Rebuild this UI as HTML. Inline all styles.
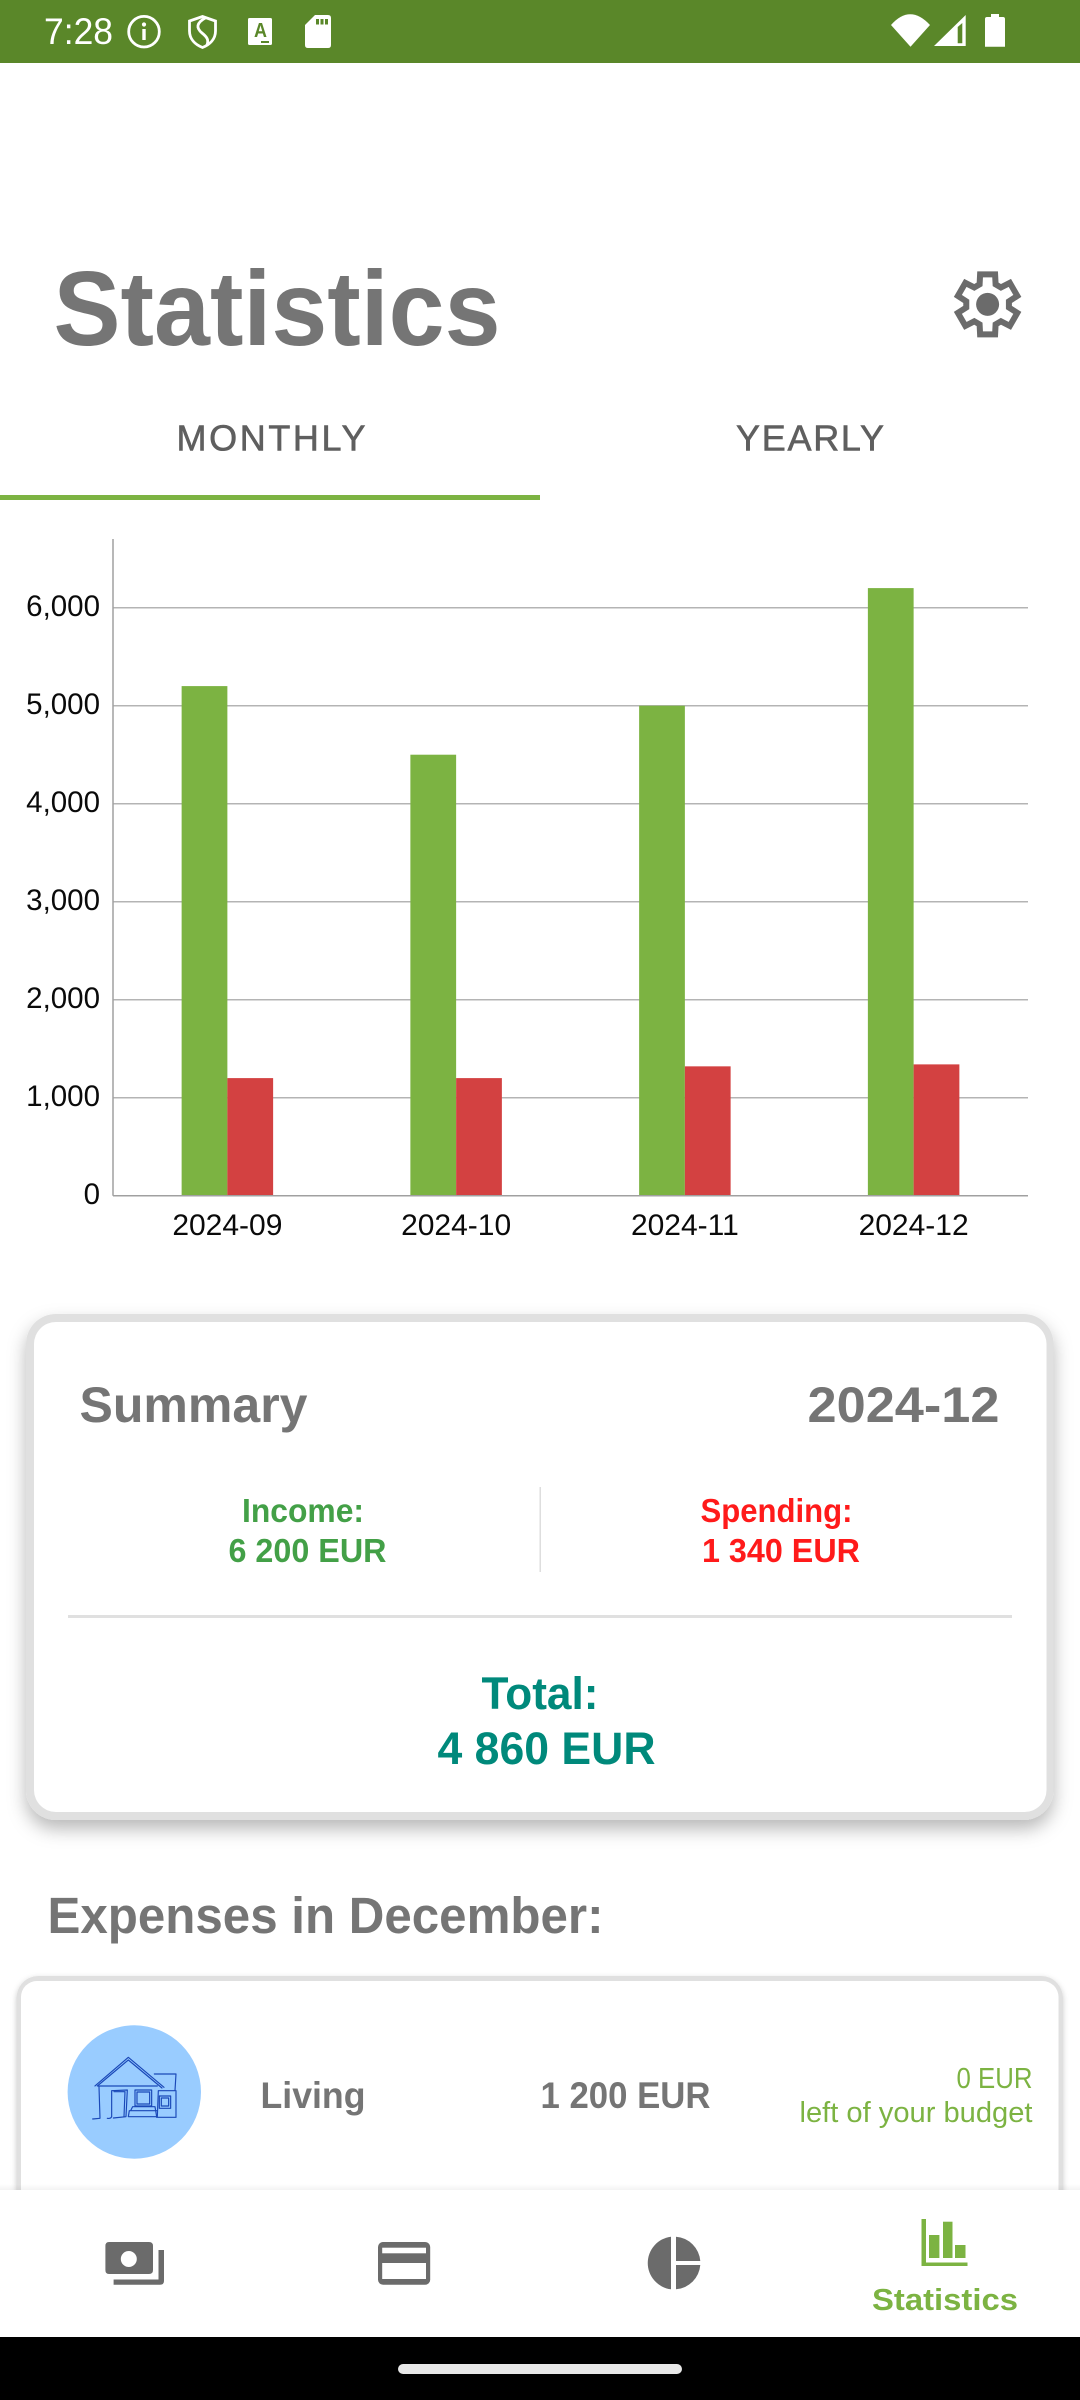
<!DOCTYPE html>
<html lang="en">
<head>
<meta charset="utf-8">
<title>Statistics</title>
<style>
html,body{margin:0;padding:0;background:#fff;width:1080px;height:2400px;overflow:hidden}
svg{display:block}
text{font-family:"Liberation Sans",sans-serif}
.b{font-weight:700}
</style>
</head>
<body>
<svg id="page" xmlns="http://www.w3.org/2000/svg" width="1080" height="2400" viewBox="0 0 1080 2400">
  <defs>
    <filter id="cardShadow" x="-10%" y="-10%" width="120%" height="125%">
      <feDropShadow dx="0" dy="9" stdDeviation="9" flood-color="#000" flood-opacity="0.28"/>
    </filter>
    <filter id="itemShadow" x="-5%" y="-5%" width="110%" height="115%">
      <feDropShadow dx="0" dy="2" stdDeviation="3" flood-color="#000" flood-opacity="0.2"/>
    </filter>
    <linearGradient id="navEdge" x1="0" y1="0" x2="0" y2="1">
      <stop offset="0" stop-color="#000" stop-opacity="0"/>
      <stop offset="1" stop-color="#000" stop-opacity="0.05"/>
    </linearGradient>
  </defs>
  <rect x="0" y="0" width="1080" height="2400" fill="#fff"/>

  <!-- Status bar -->
  <g>
    <rect x="0" y="0" width="1080" height="63" fill="#5a8729"/>
    <text x="44" y="44" font-size="37" fill="#fff" textLength="69" lengthAdjust="spacingAndGlyphs">7:28</text>
    <g>
      <circle cx="144" cy="31.7" r="15.3" fill="none" stroke="#fff" stroke-width="2.8"/>
      <rect x="142.3" y="29" width="3.4" height="11" fill="#fff"/>
      <circle cx="144" cy="24.5" r="2.1" fill="#fff"/>
    </g>
    <g fill="none" stroke="#fff" stroke-width="2.8">
      <path d="M202.500 16.500 L215.500 21 V31 C215.500 39 210 44.500 202.500 47.500 C195 44.500 189.500 39 189.500 31 V21 Z"/>
      <path d="M206 17.500 C196 23 196 28 202 33 C207 37 209 40 207 45"/>
    </g>
    <g>
      <rect x="248" y="18" width="24" height="27" rx="1.500" fill="#fff"/>
      <text x="254" y="37" class="b" font-size="20" fill="#5a8729" textLength="13" lengthAdjust="spacingAndGlyphs">A</text>
      <rect x="261" y="41" width="8" height="2" fill="#5a8729"/>
    </g>
    <g>
      <path d="M315 15 H328 Q331 15 331 18 V45 Q331 48 328 48 H308 Q305 48 305 45 V25 Z" fill="#fff"/>
      <rect x="316" y="19" width="3" height="5.500" fill="#5a8729"/>
      <rect x="320.500" y="19" width="3" height="5.500" fill="#5a8729"/>
      <rect x="325" y="19" width="3" height="5.500" fill="#5a8729"/>
    </g>
    <path d="M891 25 Q910 3.500 930 25 L910.500 46.700 Z" fill="#fff"/>
    <path fill-rule="evenodd" d="M934 46 L965.700 15 V46 Z M957.700 27 V43.300 H962.300 V23 Z" fill="#fff"/>
    <path d="M991 17 V14 H999 V17 H1003 Q1005 17 1005 19 V46.700 H985 V19 Q985 17 987 17 Z" fill="#fff"/>
  </g>

  <!-- Header -->
  <text x="53.500" y="345" class="b" font-size="106" fill="#757575" textLength="447" lengthAdjust="spacingAndGlyphs">Statistics</text>
  <g transform="translate(987.600 304.400)">
    <polygon points="-8,-20 -7.500,-30 7.500,-30 8,-20 13.320,-16.930 22.230,-21.500 29.730,-8.500 21.320,-3.070 21.320,3.070 29.730,8.500 22.230,21.500 13.320,16.930 8,20 7.500,30 -7.500,30 -8,20 -13.320,16.930 -22.230,21.500 -29.730,8.500 -21.320,3.070 -21.320,-3.070 -29.730,-8.500 -22.230,-21.500 -13.320,-16.930" fill="none" stroke="#6b6b6b" stroke-width="6" stroke-linejoin="miter"/>
    <circle cx="0" cy="0" r="11.500" fill="#6b6b6b"/>
  </g>

  <!-- Tabs -->
  <text x="176.500" y="450.500" font-size="36" fill="#5f5f5f" stroke="#5f5f5f" stroke-width="0.6" textLength="189" lengthAdjust="spacing">MONTHLY</text>
  <text x="736" y="450.500" font-size="36" fill="#5f5f5f" stroke="#5f5f5f" stroke-width="0.6" textLength="148" lengthAdjust="spacing">YEARLY</text>
  <rect x="0" y="495" width="540" height="5" fill="#7cb342"/>

  <!-- Chart -->
  <g id="chart"></g>

  <!-- Summary card -->
  <g>
    <rect x="26" y="1314" width="1027.500" height="506" rx="30" ry="30" fill="#e0e0e0" filter="url(#cardShadow)"/>
    <rect x="34" y="1322" width="1012.500" height="490" rx="22" ry="22" fill="#fff"/>
    <text x="79.500" y="1422" class="b" font-size="50" fill="#757575" textLength="228" lengthAdjust="spacingAndGlyphs">Summary</text>
    <text x="807.500" y="1422" class="b" font-size="50" fill="#757575" textLength="192" lengthAdjust="spacingAndGlyphs">2024-12</text>
    <text x="242" y="1522" class="b" font-size="33" fill="#43a047" textLength="122" lengthAdjust="spacingAndGlyphs">Income:</text>
    <text x="228.500" y="1562" class="b" font-size="33" fill="#43a047" textLength="158" lengthAdjust="spacingAndGlyphs">6 200 EUR</text>
    <rect x="539.500" y="1487" width="1.500" height="85" fill="#dedede"/>
    <text x="700.500" y="1522" class="b" font-size="33" fill="#ff1a1a" textLength="152" lengthAdjust="spacingAndGlyphs">Spending:</text>
    <text x="702" y="1562" class="b" font-size="33" fill="#ff1a1a" textLength="158" lengthAdjust="spacingAndGlyphs">1 340 EUR</text>
    <rect x="68" y="1615" width="944" height="3" fill="#e0e0e0"/>
    <text x="481.500" y="1709" class="b" font-size="45" fill="#00897b" textLength="117" lengthAdjust="spacingAndGlyphs">Total:</text>
    <text x="437.500" y="1764" class="b" font-size="45" fill="#00897b" textLength="218" lengthAdjust="spacingAndGlyphs">4 860 EUR</text>
  </g>

  <text x="47.500" y="1933" class="b" font-size="51" fill="#757575" textLength="556" lengthAdjust="spacingAndGlyphs">Expenses in December:</text>

  <!-- Expense item -->
  <g>
    <rect x="16.500" y="1976" width="1046.500" height="300" rx="22" ry="22" fill="#e0e0e0" filter="url(#itemShadow)"/>
    <rect x="21" y="1981" width="1037.500" height="300" rx="16" ry="16" fill="#fff"/>
    <circle cx="134.300" cy="2092" r="66.700" fill="#99ccff"/>
    <g transform="translate(40 2000) scale(0.3333)" fill="none" stroke="#1a48b8" stroke-width="3.500" stroke-linejoin="round" stroke-linecap="round">
      <path d="M165 258 L265 172 L372 262"/>
      <path d="M172 258 L265 180 L366 264"/>
      <path d="M175 258 H352"/>
      <path d="M177 260 L180 355 L158 357"/>
      <path d="M202 355 Q212 357 215 350 L215 272 L262 270 L258 350 L220 354"/>
      <path d="M222 275 H255 L252 350"/>
      <rect x="285" y="270" width="50" height="48"/>
      <rect x="291" y="276" width="38" height="36"/>
      <path d="M272 332 L278 320 H345 L350 350 H265 L268 332 H350"/>
      <path d="M343 222 H408 L405 272 H355 L352 350"/>
      <path d="M408 272 V352 H350"/>
      <rect x="358" y="288" width="34" height="37"/>
      <rect x="364" y="294" width="22" height="24"/>
    </g>
    <text x="260.500" y="2108" class="b" font-size="37" fill="#757575" textLength="105" lengthAdjust="spacingAndGlyphs">Living</text>
    <text x="540.500" y="2108" class="b" font-size="37" fill="#757575" textLength="170" lengthAdjust="spacingAndGlyphs">1 200 EUR</text>
    <text x="956.500" y="2088" font-size="29" fill="#7cb342" textLength="76" lengthAdjust="spacingAndGlyphs">0 EUR</text>
    <text x="799.500" y="2122" font-size="29" fill="#7cb342" textLength="233" lengthAdjust="spacingAndGlyphs">left of your budget</text>
  </g>

  <!-- Bottom navigation -->
  <g>
    <rect x="0" y="2184" width="1080" height="6" fill="url(#navEdge)"/>
    <rect x="0" y="2190" width="1080" height="147" fill="#fff"/>
    <g>
      <path fill-rule="evenodd" d="M109 2242 H149 Q153 2242 153 2246 V2270 Q153 2274 149 2274 H109 Q105.400 2274 105.400 2270 V2246 Q105.400 2242 109 2242 Z M128.800 2251 A8 8 0 1 0 128.800 2267 A8 8 0 1 0 128.800 2251 Z" fill="#6b6b6b"/>
      <path d="M158.500 2250 H164 V2281 Q164 2284.700 160 2284.700 H113.600 V2279.500 H158.500 Z" fill="#6b6b6b"/>
    </g>
    <g>
      <rect x="378" y="2242" width="52.200" height="42.700" rx="5" fill="#6b6b6b"/>
      <rect x="382.200" y="2247.700" width="43.800" height="5.600" fill="#fff"/>
      <rect x="382.200" y="2263" width="43.800" height="16" fill="#fff"/>
    </g>
    <g fill="#6b6b6b">
      <path d="M671 2236.700 A26.500 26.500 0 0 0 671 2289.300 Z"/>
      <path d="M676 2236.700 A26.500 26.500 0 0 1 700.300 2261 H676 Z"/>
      <path d="M676 2265 H700.300 A26.500 26.500 0 0 1 676 2289.300 Z"/>
    </g>
    <g>
      <g fill="#7cb342">
        <rect x="921.500" y="2219" width="4.500" height="47"/>
        <rect x="921.500" y="2262.500" width="46" height="3.500"/>
        <rect x="929" y="2235" width="10.400" height="23"/>
        <rect x="943" y="2221.700" width="9.500" height="36.300"/>
        <rect x="955" y="2245" width="10.500" height="13"/>
      </g>
      <text x="872" y="2310" class="b" font-size="31" fill="#7cb342" textLength="146" lengthAdjust="spacingAndGlyphs">Statistics</text>
    </g>
  </g>

  <!-- System navigation -->
  <rect x="0" y="2337" width="1080" height="63" fill="#000"/>
  <rect x="398" y="2364" width="284" height="10" rx="5" fill="#e8e8e8"/>
</svg>
<script>
const categories = ['2024-09', '2024-10', '2024-11', '2024-12'];
const incomeValues = [5200, 4500, 5000, 6200];
const spendingValues = [1200, 1200, 1320, 1340];
const yTickValues = [0, 1000, 2000, 3000, 4000, 5000, 6000];
const yTickLabels = ['0', '1,000', '2,000', '3,000', '4,000', '5,000', '6,000'];

const SVGNS = 'http://www.w3.org/2000/svg';
const chart = document.getElementById('chart');
const plotLeft = 113;
const plotRight = 1028;
const plotTop = 539;
const plotBottom = 1195.700;
const pxPerUnit = 0.098;
const barFraction = 0.2;

function yScale(v) { return plotBottom - v * pxPerUnit; }
function bandWidth() { return (plotRight - plotLeft) / categories.length; }
function xCenter(i) { return plotLeft + bandWidth() * (i + 0.5); }
function make(tag, attrs, parent) {
  const el = document.createElementNS(SVGNS, tag);
  for (const k in attrs) el.setAttribute(k, attrs[k]);
  parent.appendChild(el);
  return el;
}

yTickValues.forEach(function (v, i) {
  if (v !== 0) {
    const grid = make('line', { x1: plotLeft, x2: plotRight, y1: yScale(v), y2: yScale(v), stroke: '#b4b4b4', 'stroke-width': 1.5 }, chart);
    
    
  }
  const label = make('text', { x: 100, y: yScale(v) + 8.3, 'text-anchor': 'end', 'font-size': 29.5, fill: '#0a0a0a' }, chart);
  label.textContent = yTickLabels[i];
  
  
});

categories.forEach(function (c, i) {
  const w = bandWidth() * barFraction;
  const cx = xCenter(i);
  const inc = make('rect', { x: cx - w, y: yScale(incomeValues[i]), width: w, height: plotBottom - yScale(incomeValues[i]), fill: '#7cb342' }, chart);
  
  
  const sp = make('rect', { x: cx, y: yScale(spendingValues[i]), width: w, height: plotBottom - yScale(spendingValues[i]), fill: '#d34141' }, chart);
  
  
  const label = make('text', { x: cx, y: 1235, 'text-anchor': 'middle', 'font-size': 30, fill: '#0a0a0a' }, chart);
  label.textContent = c;
  
  
});

const yAxis = make('line', { x1: plotLeft, x2: plotLeft, y1: plotTop, y2: plotBottom, stroke: '#a0a0a0', 'stroke-width': 1.5 }, chart);


const xAxis = make('line', { x1: plotLeft, x2: plotRight, y1: plotBottom, y2: plotBottom, stroke: '#a0a0a0', 'stroke-width': 1.5 }, chart);


</script>
</body>
</html>
